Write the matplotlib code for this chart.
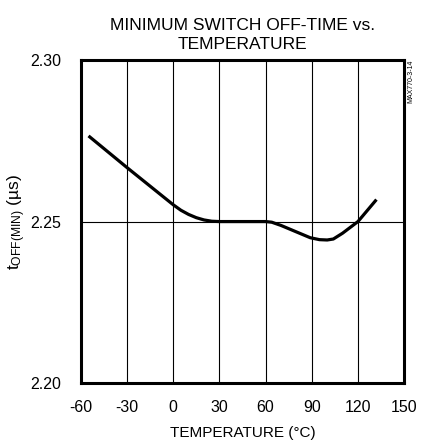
import numpy as np
import matplotlib.pyplot as plt

# curve
temp = [-55, -30, 0, 5, 10, 15, 20, 25, 30, 60, 64, 70, 80, 89, 95, 100, 104, 110, 120, 132]
toff = [2.2765, 2.2667, 2.2552, 2.2535, 2.2522, 2.2512, 2.2505, 2.2501, 2.2500, 2.2500,
        2.2498, 2.2488, 2.2468, 2.2450, 2.2444, 2.2443, 2.2446, 2.2464, 2.2500, 2.2568]

xticks = [-60, -30, 0, 30, 60, 90, 120, 150]
yticks = [2.20, 2.25, 2.30]

plt.rcParams['font.family'] = ['Liberation Sans', 'DejaVu Sans']

fig = plt.figure(figsize=(4.21, 4.44), dpi=100)
ax = fig.add_axes([0.192, 0.137, 0.768, 0.728])

ax.plot(temp, toff, color='black', lw=2.3, solid_capstyle='butt', solid_joinstyle='round')

ax.set_xlim(-60, 150)
ax.set_ylim(2.20, 2.30)
ax.set_xticks(xticks)
ax.set_xticklabels([str(t) for t in xticks])
ax.set_yticks(yticks)
ax.set_yticklabels(['%.2f' % v for v in yticks])
ax.tick_params(length=0, labelsize=11.5)
ax.tick_params(axis='x', pad=12)
ax.tick_params(axis='y', pad=14)
ax.grid(True, color='black', lw=0.8)
for s in ax.spines.values():
    s.set_linewidth(2.2)

ax.set_xlabel('TEMPERATURE (°C)', fontsize=11, labelpad=8)
ax.set_ylabel(r'$\mathregular{t_{OFF(MIN)}}$ (µs)', fontsize=12.5, labelpad=2)
ax.set_title('MINIMUM SWITCH OFF-TIME vs.\nTEMPERATURE', fontsize=12.5, pad=8, linespacing=1.3)

fig.text(0.968, 0.865, 'MAX770-3-14', rotation=90, fontsize=5, ha='left', va='top')

fig.savefig('out.png', dpi=100)
